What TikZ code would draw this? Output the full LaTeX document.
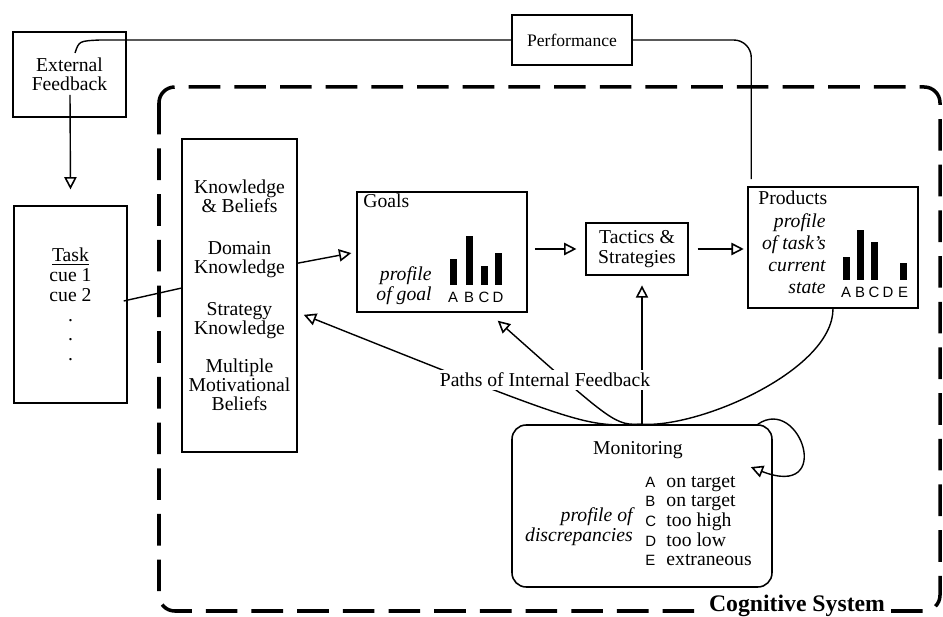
\documentclass[tikz,border=0pt]{standalone}
\usepackage{fontspec}
\setmainfont{Liberation Serif}
\setsansfont{Liberation Sans}
\usetikzlibrary{arrows.meta}
\newcommand{\abcmark}[1]{\makebox[12pt][l]{\sffamily\fontsize{8.5}{9}\selectfont #1}}

\begin{document}
\begin{tikzpicture}[x=0.02cm,y=-0.02cm,
  font=\fontsize{11.2}{11}\selectfont,
  box/.style={draw,line width=0.9pt,align=center,inner sep=0pt},
  conn/.style={line width=0.8pt},
  fbarrow/.style={line width=0.8pt,-{Triangle[open,length=7pt,width=7pt,line width=0.9pt]}},
  bar/.style={fill=black},
  abc/.style={font=\sffamily\fontsize{8.5}{9}\selectfont,inner sep=0pt},
  emph/.style={font=\itshape\fontsize{11.2}{11.3}\selectfont,align=right,inner sep=0pt},
  sysline/.style={line width=2pt,dash pattern=on 18pt off 8pt,rounded corners=9pt}]

\useasboundingbox (0,0) rectangle (943,617);

\draw[sysline] (159,87) rectangle (940,611);
\node[fill=white,font=\bfseries\fontsize{13.5}{14}\selectfont,inner sep=2pt] (cogsys) at (797,606) {Cognitive System};

\node[box,minimum width=2.26cm,minimum height=1.70cm] (ext) at (69.5,74.5) {External\\Feedback};
\node[box,minimum width=2.40cm,minimum height=1.00cm,font=\fontsize{10}{11}\selectfont] (perf) at (572,40) {Performance};
\node[box,minimum width=2.26cm,minimum height=3.94cm,font=\fontsize{11.2}{11.3}\selectfont] (task) at (70.5,304.5) {\underline{Task}\\cue 1\\cue 2\\.\\.\\.};
\node[box,minimum width=2.30cm,minimum height=6.26cm,font=\fontsize{11.2}{10.8}\selectfont] (know) at (239.5,295.5)
  {Knowledge\\\& Beliefs\\[13pt]Domain\\Knowledge\\[13pt]Strategy\\Knowledge\\[11pt]Multiple\\Motivational\\Beliefs};

\node[box,minimum width=3.40cm,minimum height=2.40cm] (goals) at (442,252) {};
\node[anchor=base west,inner sep=0pt] (goalstitle) at (363,208) {Goals};
\node[emph,anchor=east] (goalprofile) at (432,286) {profile\\of goal};
\foreach \x/\t in {453/259,469/236,484/266,498/253}
  \fill[bar] (\x-3.5,285) rectangle (\x+3.5,\t);
\foreach \x/\l in {453/A,469/B,484/C,498/D}
  \node[abc] (goal\l) at (\x,297) {\l};

\node[box,minimum width=2.04cm,minimum height=1.04cm] (tact) at (637,249) {Tactics \&\\Strategies};

\node[box,minimum width=3.40cm,minimum height=2.42cm] (prod) at (833,247.5) {};
\node[anchor=base west,inner sep=0pt] (prodtitle) at (758,205) {Products};
\node[emph,anchor=east,font=\itshape\fontsize{11.2}{12.5}\selectfont] (prodprofile) at (826,254) {profile\\of task's\\current\\state};
\foreach \x/\t in {846/257,860/230,874/242,903/263}
  \fill[bar] (\x-3.5,280) rectangle (\x+3.5,\t);
\foreach \x/\l in {846/A,860/B,874/C,888/D,903/E}
  \node[abc] (prod\l) at (\x,292) {\l};

\node[box,rounded corners=8pt,minimum width=5.20cm,minimum height=3.24cm] (mon) at (642,506) {};
\node[inner sep=0pt] (montitle) at (638,450) {Monitoring};
\node[emph,anchor=east] (monprofile) at (633,527) {profile of\\discrepancies};
\node[anchor=west,align=left,inner sep=0pt,font=\fontsize{11.2}{11.2}\selectfont] (monlist) at (645,521)
  {\abcmark{A}on target\\\abcmark{B}on target\\\abcmark{C}too high\\\abcmark{D}too low\\\abcmark{E}extraneous};

\coordinate (extstart) at (75,53);
\coordinate (extfoot) at (70,95);

\draw[conn] (extstart) .. controls (79,41) .. (100,40) -- (perf.west);
\draw[conn,rounded corners=10pt] (perf.east) -| ([xshift=2.3pt,yshift=4pt]prod.north west);
\draw[fbarrow] (extfoot) -- ([yshift=9pt]task.north);
\draw[conn] ([xshift=-2.3pt,yshift=2pt]task.east) -- ([yshift=4.2pt]know.west);
\draw[fbarrow] ([yshift=18.4pt]know.east) -- ([xshift=-2.8pt,yshift=-0.6pt]goals.west);
\draw[fbarrow,shorten <=4pt,shorten >=5pt] (goals.east |- tact.west) -- (tact.west);
\draw[fbarrow,shorten <=5pt,shorten >=2pt] (tact.east) -- (prod.west |- tact.east);

\draw[fbarrow] (mon.north) .. controls (585,427) .. ([xshift=3.4pt,yshift=-11pt]know.east);
\draw[fbarrow] (mon.north) .. controls (615,425) .. ([xshift=31.7pt,yshift=-4.5pt]goals.south);
\draw[fbarrow,shorten >=5.5pt] (mon.north) -- (mon.north |- tact.south);
\draw[conn] (prod.south) .. controls (833,370) and (700,428) .. (mon.north);
\draw[fbarrow] ([xshift=-8.5pt]mon.north east) .. controls (800,395) and (835,500) .. ([xshift=-12.5pt,yshift=-24.4pt]mon.north east);

\node[fill=white,inner sep=1.5pt] (fblabel) at (545,380) {Paths of Internal Feedback};
\end{tikzpicture}
\end{document}
